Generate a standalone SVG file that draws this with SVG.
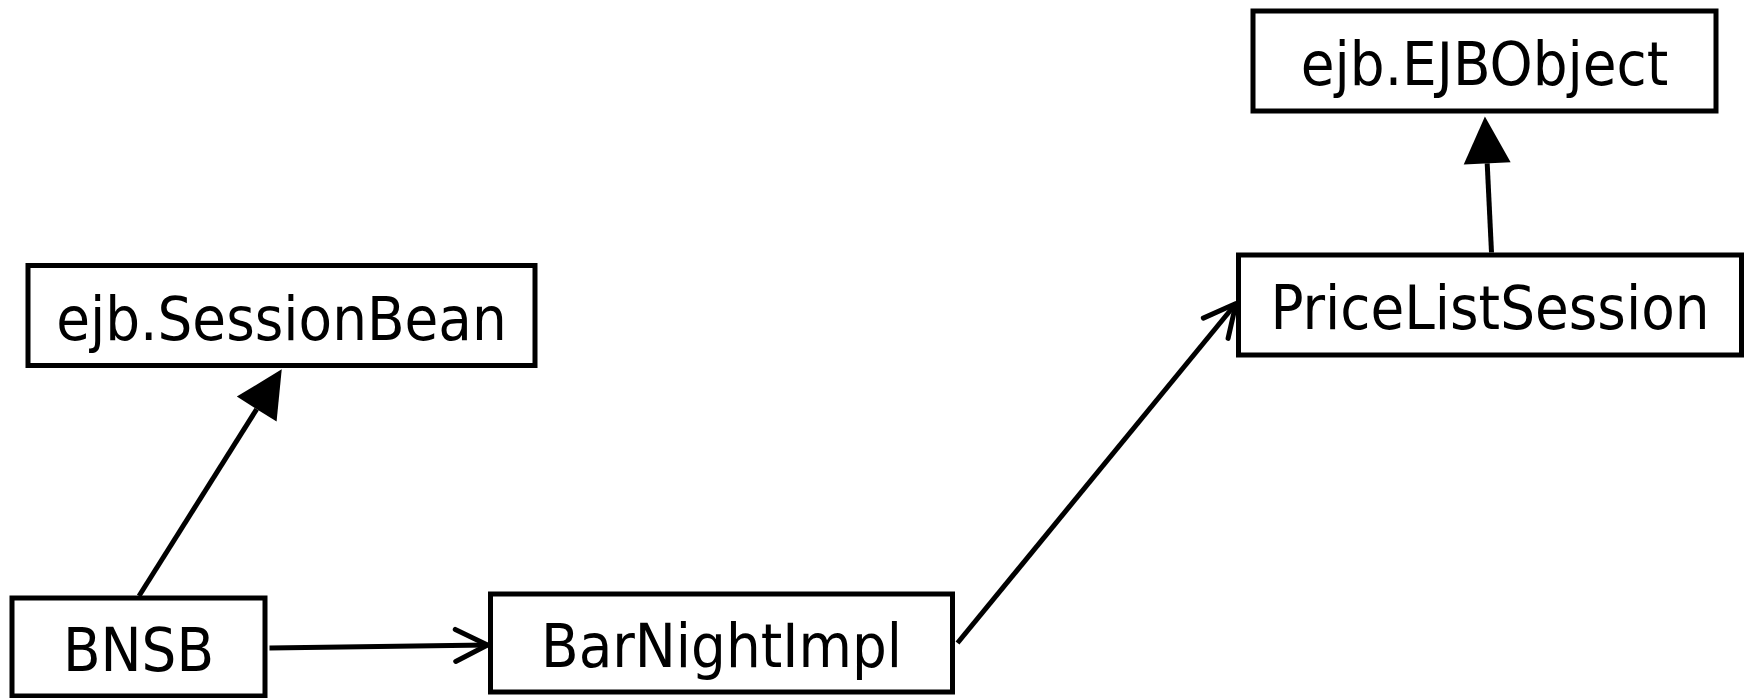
<svg xmlns="http://www.w3.org/2000/svg" width="1745" height="698" viewBox="0 0 1745 698">
  <style>
    .box { fill: #ffffff; stroke: #000000; stroke-width: 5; }
    .label { font-family: "DejaVu Sans Condensed", "DejaVu Sans", Verdana, sans-serif; font-stretch: condensed; font-size: 61px; fill: #000000; text-anchor: middle; }
    .edge { fill: none; stroke: #000000; stroke-width: 5; }
  </style>
  <defs>
    <!-- solid triangle: generalization -->
    <marker id="inherit" markerUnits="userSpaceOnUse" markerWidth="60" markerHeight="60" viewBox="-2 -30 54 60" refX="0" refY="0" orient="auto" overflow="visible">
      <path d="M 0 -23.5 L 47 0 L 0 23.5 Z" fill="#000000"/>
    </marker>
    <!-- open arrow: dependency -->
    <marker id="uses" markerUnits="userSpaceOnUse" markerWidth="50" markerHeight="50" viewBox="-40 -25 45 50" refX="0" refY="0" orient="auto" overflow="visible">
      <path d="M -32 -16 L 0 0 L -32 16" fill="none" stroke="#000000" stroke-width="5" stroke-linecap="round" stroke-linejoin="round"/>
    </marker>
  </defs>

  <rect width="1745" height="698" fill="#ffffff"/>

  <g id="connectors">
    <line class="edge" x1="139" y1="596" x2="256.7" y2="409.1" marker-end="url(#inherit)"/>
    <line class="edge" x1="1491.5" y1="252.5" x2="1487.2" y2="163.4" marker-end="url(#inherit)"/>
    <line class="edge" x1="269.5" y1="648" x2="487.5" y2="645" marker-end="url(#uses)"/>
    <line class="edge" x1="957.5" y1="643" x2="1236" y2="303.5" marker-end="url(#uses)"/>
  </g>

  <g id="ejb-SessionBean">
    <rect class="box" x="28" y="265.5" width="507" height="100"/>
    <text class="label" x="281.5" y="339.5">ejb.SessionBean</text>
  </g>

  <g id="BNSB">
    <rect class="box" x="12" y="598" width="253" height="98"/>
    <text class="label" x="138.5" y="671">BNSB</text>
  </g>

  <g id="BarNightImpl">
    <rect class="box" x="490.5" y="594" width="462" height="98"/>
    <text class="label" x="721.5" y="667">BarNightImpl</text>
  </g>

  <g id="PriceListSession">
    <rect class="box" x="1238.5" y="255" width="503" height="100"/>
    <text class="label" x="1490" y="329">PriceListSession</text>
  </g>

  <g id="ejb-EJBObject">
    <rect class="box" x="1253" y="11" width="463" height="100"/>
    <text class="label" x="1484.5" y="85">ejb.EJBObject</text>
  </g>
</svg>
